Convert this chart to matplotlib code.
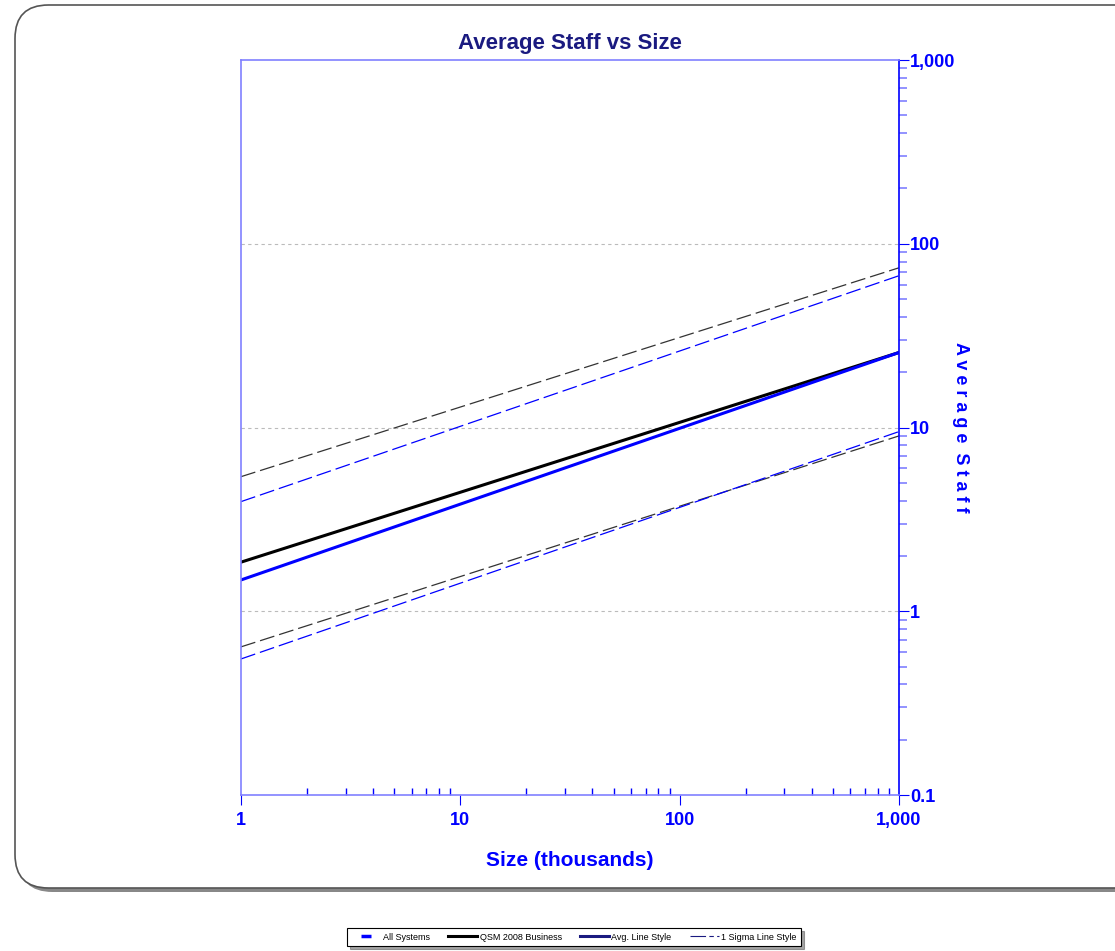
import matplotlib
matplotlib.use("Agg")
import matplotlib.pyplot as plt
from matplotlib.patches import FancyBboxPatch
from matplotlib.lines import Line2D
from matplotlib.ticker import NullFormatter, LogLocator

plt.rcParams['font.family'] = ['Liberation Sans Narrow', 'Liberation Sans', 'DejaVu Sans']

# size (thousands) at the ends of each trend line
size_k = [1, 1000]
# QSM 2008 Business trend lines
qsm_avg = [1.85, 25.6]
qsm_hi = [5.4, 74.0]
qsm_lo = [0.64, 9.0]
# All Systems trend lines
all_avg = [1.48, 25.6]
all_hi = [3.95, 67.0]
all_lo = [0.55, 9.5]

y_ticks = [0.1, 1, 10, 100, 1000]
y_labels = ['0.1', '1', '10', '100', '1,000']
x_ticks = [1, 10, 100, 1000]
x_labels = ['1', '10', '100', '1,000']

blue = '#0000ff'
light = '#8080ff'
navy = '#1a1a80'

fig = plt.figure(figsize=(11.15, 9.51), dpi=100)

# rounded frame with shadow
W, H = 1115, 951
shadow = FancyBboxPatch((19 / W, 1 - 892 / H), 1140 / W, 884 / H,
                        boxstyle="round,pad=0,rounding_size=0.03",
                        transform=fig.transFigure, facecolor='#888888',
                        edgecolor='none', zorder=-2, mutation_aspect=W / H)
frame = FancyBboxPatch((15 / W, 1 - 888 / H), 1140 / W, 883 / H,
                       boxstyle="round,pad=0,rounding_size=0.03",
                       transform=fig.transFigure, facecolor='white',
                       edgecolor='#555555', lw=1.2, zorder=-1, mutation_aspect=W / H)
fig.patches.extend([shadow, frame])

ax = fig.add_axes([241 / W, 1 - 795 / H, 658 / W, 735 / H])
ax.set_xscale('log')
ax.set_yscale('log')
ax.set_xlim(1, 1000)
ax.set_ylim(0.1, 1000)

ax.plot(size_k, qsm_hi, color='#333333', lw=0.9, dashes=(12, 4))
ax.plot(size_k, all_hi, color=blue, lw=0.9, dashes=(12, 4))
ax.plot(size_k, qsm_lo, color='#333333', lw=0.9, dashes=(12, 4))
ax.plot(size_k, all_lo, color=blue, lw=0.9, dashes=(12, 4))
ax.plot(size_k, qsm_avg, color='black', lw=2.2)
ax.plot(size_k, all_avg, color=blue, lw=2.2)

for v in [1, 10, 100]:
    ax.axhline(v, color='#bbbbbb', lw=0.8, ls=(0, (3, 3)), zorder=0)

for s in ['left', 'top', 'bottom']:
    ax.spines[s].set_color(light)
    ax.spines[s].set_linewidth(1.2)
ax.spines['right'].set_color(blue)
ax.spines['right'].set_linewidth(1.2)

ax.yaxis.tick_right()
ax.yaxis.set_label_position('right')
ax.set_yticks(y_ticks)
ax.set_yticklabels(y_labels)
ax.yaxis.set_minor_locator(LogLocator(base=10, subs=range(2, 10)))
ax.yaxis.set_minor_formatter(NullFormatter())
ax.tick_params(axis='y', which='major', direction='out', length=7, color=blue,
               labelcolor=blue, labelsize=13, pad=1)
ax.tick_params(axis='y', which='minor', direction='out', length=6, color=light, width=1.2)

ax.set_xticks(x_ticks)
ax.set_xticklabels(x_labels)
ax.xaxis.set_minor_locator(LogLocator(base=10, subs=range(2, 10)))
ax.xaxis.set_minor_formatter(NullFormatter())
ax.tick_params(axis='x', which='major', direction='out', length=7, color=blue,
               labelcolor=blue, labelsize=13, pad=5)
ax.tick_params(axis='x', which='minor', direction='in', length=5, color=blue, width=1)
for lab in ax.get_xticklabels() + ax.get_yticklabels():
    lab.set_fontweight('bold')

ax.set_xlabel('Size (thousands)', color=blue, fontsize=15, fontweight='bold', labelpad=16)
ax.set_ylabel('A v e r a g e  S t a f f', color=blue, fontsize=13, fontweight='bold',
              rotation=-90, labelpad=10)
ax.set_title('Average Staff vs Size', color=navy, fontsize=16, fontweight='bold', pad=8)

# legend
handles = [
    Line2D([], [], color=blue, marker='_', ls='none', markersize=7, mew=2.5),
    Line2D([], [], color='black', lw=2.2),
    Line2D([], [], color=navy, lw=2.2),
    Line2D([], [], color=navy, lw=0.8, dashes=(14, 3, 4, 3)),
]
names = ['All Systems', 'QSM 2008 Business', 'Avg. Line Style', '1 Sigma Line Style']
leg = fig.legend(handles, names, loc='center', ncol=4,
                 bbox_to_anchor=(574 / W, 1 - 937 / H), fontsize=6.5,
                 frameon=True, fancybox=False, shadow=True, edgecolor='black',
                 handlelength=3.2, columnspacing=2.0, handletextpad=0.3,
                 borderpad=0.5)
leg.get_frame().set_linewidth(0.8)

fig.savefig('out.png', dpi=100)
